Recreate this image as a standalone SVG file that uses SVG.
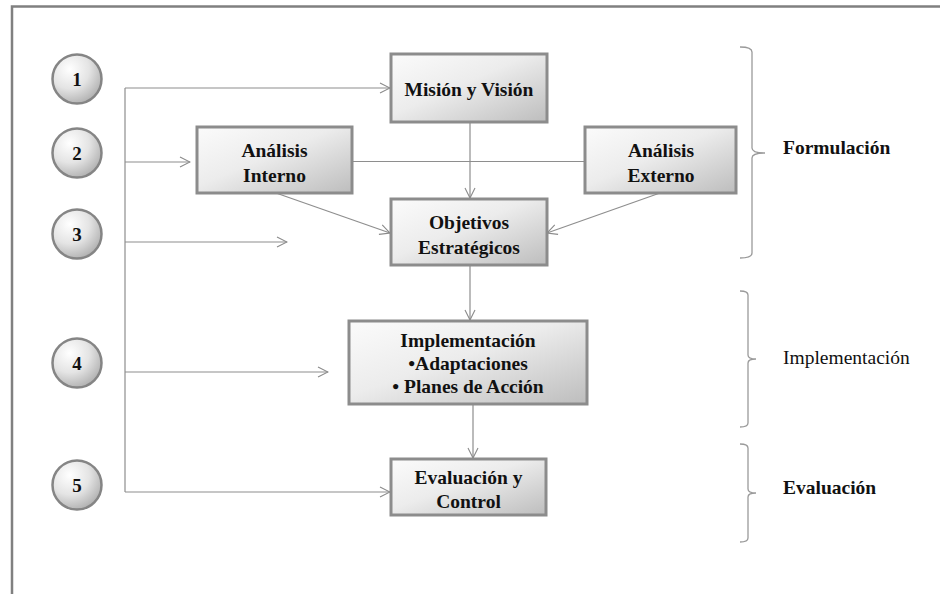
<svg xmlns="http://www.w3.org/2000/svg" width="940" height="594" viewBox="0 0 940 594">
  <defs>
    <linearGradient id="boxFill" x1="0" y1="0" x2="1" y2="1">
      <stop offset="0" stop-color="#fbfbfb"/>
      <stop offset="0.45" stop-color="#ececec"/>
      <stop offset="1" stop-color="#bdbdbd"/>
    </linearGradient>
    <radialGradient id="ballFill" cx="0.35" cy="0.3" r="0.8">
      <stop offset="0" stop-color="#ffffff"/>
      <stop offset="0.5" stop-color="#e4e4e4"/>
      <stop offset="1" stop-color="#a8a8a8"/>
    </radialGradient>
    <marker id="open" viewBox="0 0 12 12" refX="11" refY="6" markerWidth="12" markerHeight="12" markerUnits="userSpaceOnUse" orient="auto">
      <path d="M1 1 L11 6 L1 11" fill="none" stroke="#8a8a8a" stroke-width="1.1"/>
    </marker>
  </defs>
  <style>
    .frame { fill: none; stroke: #808080; stroke-width: 2.5; }
    .box { fill: url(#boxFill); stroke: #8c8c8c; stroke-width: 3; }
    .ball { fill: url(#ballFill); stroke: #858585; stroke-width: 2.5; }
    .link { fill: none; stroke: #8e8e8e; stroke-width: 1.2; }
    .arrow { marker-end: url(#open); }
    .brace { fill: none; stroke: #9a9a9a; stroke-width: 1.3; }
    .t { font-family: "Liberation Serif", "Times New Roman", serif; font-size: 19.5px; fill: #111; text-anchor: middle; }
    .b { font-weight: bold; }
    .num { font-family: "Liberation Serif", "Times New Roman", serif; font-size: 19px; font-weight: bold; fill: #111; text-anchor: middle; }
    .lbl { font-family: "Liberation Serif", "Times New Roman", serif; font-size: 19.5px; fill: #111; }
  </style>

  <rect width="940" height="594" fill="#ffffff"/>
  <!-- outer frame: top and left edges -->
  <path class="frame" d="M12 594 V6.5 H940"/>

  <!-- connectors -->
  <g id="connectors">
    <path class="link" d="M125 88 V492"/>
    <path class="link arrow" d="M125 88 H390"/>
    <path class="link arrow" d="M125 162 H190"/>
    <path class="link arrow" d="M125 242 H287"/>
    <path class="link arrow" d="M125 372 H328"/>
    <path class="link arrow" d="M125 492 H390"/>
    <path class="link" d="M352 161.5 H585"/>
    <path class="link arrow" d="M470 122 V198"/>
    <path class="link arrow" d="M276 193 L390 233"/>
    <path class="link arrow" d="M660 193 L547 233"/>
    <path class="link arrow" d="M470 265 V320"/>
    <path class="link arrow" d="M473 404 V458"/>
  </g>

  <!-- step markers -->
  <g id="step1"><circle class="ball" cx="77" cy="79" r="24.5"/><text class="num" x="77" y="85.5">1</text></g>
  <g id="step2"><circle class="ball" cx="77" cy="153" r="24.5"/><text class="num" x="77" y="159.5">2</text></g>
  <g id="step3"><circle class="ball" cx="77" cy="234" r="24.5"/><text class="num" x="77" y="240.5">3</text></g>
  <g id="step4"><circle class="ball" cx="77" cy="363" r="24.5"/><text class="num" x="77" y="369.5">4</text></g>
  <g id="step5"><circle class="ball" cx="77" cy="485" r="24.5"/><text class="num" x="77" y="491.5">5</text></g>

  <!-- process boxes -->
  <g id="mision">
    <rect class="box" x="391" y="54" width="156" height="68"/>
    <text class="t b" x="469" y="96">Misión y Visión</text>
  </g>
  <g id="analisis-interno">
    <rect class="box" x="197" y="127" width="155" height="66"/>
    <text class="t b" x="274.5" y="157">Análisis</text>
    <text class="t b" x="274.5" y="182">Interno</text>
  </g>
  <g id="analisis-externo">
    <rect class="box" x="585" y="127" width="151" height="66"/>
    <text class="t b" x="661" y="157">Análisis</text>
    <text class="t b" x="661" y="182">Externo</text>
  </g>
  <g id="objetivos">
    <rect class="box" x="391" y="199" width="156" height="66"/>
    <text class="t b" x="469" y="229">Objetivos</text>
    <text class="t b" x="469" y="254">Estratégicos</text>
  </g>
  <g id="implementacion">
    <rect class="box" x="349" y="321" width="238" height="83"/>
    <text class="t b" x="468" y="347">Implementación</text>
    <text class="t b" x="468" y="370">•Adaptaciones</text>
    <text class="t b" x="468" y="393">• Planes de Acción</text>
  </g>
  <g id="evaluacion">
    <rect class="box" x="391" y="459" width="155" height="56"/>
    <text class="t b" x="468.5" y="484">Evaluación y</text>
    <text class="t b" x="468.5" y="508">Control</text>
  </g>

  <!-- phase braces -->
  <g id="fase-formulacion">
    <path class="brace" d="M740 47 Q752 47 752 52 V148 Q752 153 765 153 Q752 153 752 158 V253 Q752 258 740 258"/>
    <text class="lbl b" x="783" y="154">Formulación</text>
  </g>
  <g id="fase-implementacion">
    <path class="brace" d="M740 291 Q748 291 748 295 V355 Q748 359 756 359 Q748 359 748 363 V423 Q748 427 740 427"/>
    <text class="lbl" x="783" y="364">Implementación</text>
  </g>
  <g id="fase-evaluacion">
    <path class="brace" d="M740 444 Q748 444 748 448 V489 Q748 493 756 493 Q748 493 748 497 V538 Q748 542 740 542"/>
    <text class="lbl b" x="783" y="494">Evaluación</text>
  </g>
</svg>
